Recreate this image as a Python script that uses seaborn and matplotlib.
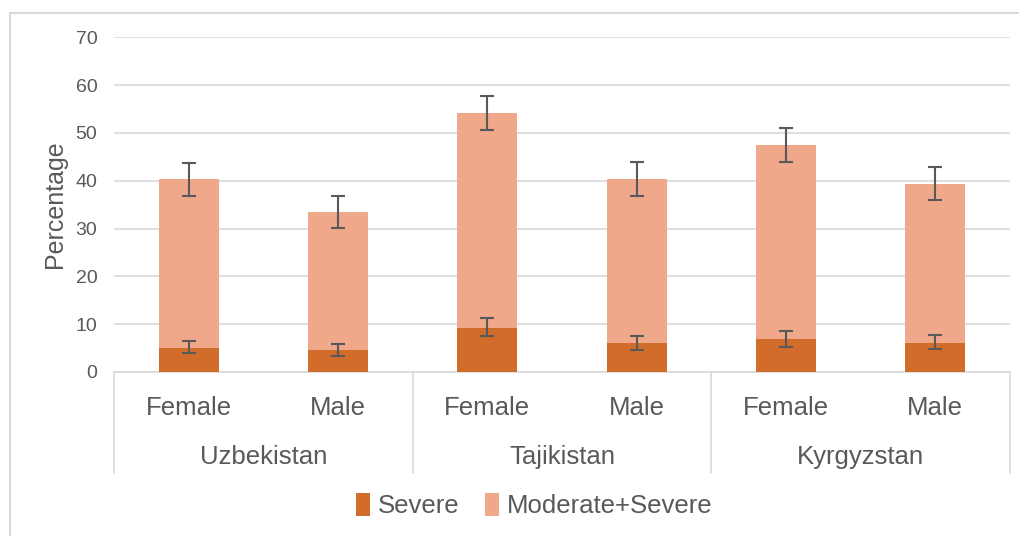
import pandas as pd
import matplotlib
matplotlib.use("Agg")
import matplotlib.pyplot as plt
import seaborn as sns
from matplotlib.patches import Rectangle
from matplotlib.transforms import blended_transform_factory

# data
countries = ["Uzbekistan", "Tajikistan", "Kyrgyzstan"]
genders = ["Female", "Male"]
mod_sev = [40.3, 33.4, 54.1, 40.4, 47.5, 39.4]
mod_sev_lo = [36.9, 30.1, 50.6, 36.8, 43.9, 35.9]
mod_sev_hi = [43.8, 36.9, 57.8, 44.0, 51.1, 42.9]
severe = [5.0, 4.6, 9.2, 6.0, 6.9, 6.1]
severe_lo = [4.0, 3.4, 7.5, 4.6, 5.2, 4.8]
severe_hi = [6.5, 5.9, 11.2, 7.5, 8.6, 7.8]

GRAY_TXT = "#595959"
GRID = "#D9D9D9"
C_SEV = "#D26C2A"
C_MOD = "#F0A88A"

slots = [f"{c} {g}" for c in countries for g in genders]
df = pd.DataFrame({
    "slot": slots,
    "mod_sev": mod_sev,
    "severe": severe,
})

sns.set_style("white")
plt.rcParams["font.family"] = ["Liberation Sans", "DejaVu Sans"]

fig = plt.figure(figsize=(10.19, 5.36), dpi=100)
ax = fig.add_axes([0.1119, 0.306, 0.8793, 0.6244])

sns.barplot(data=df, x="slot", y="mod_sev", order=slots, color=C_MOD,
            saturation=1, width=0.4, label="Moderate+Severe", ax=ax,
            zorder=2, legend=False)
sns.barplot(data=df, x="slot", y="severe", order=slots, color=C_SEV,
            saturation=1, width=0.4, label="Severe", ax=ax, zorder=3,
            legend=False)
for p in ax.patches:
    p.set_edgecolor("none")
if ax.get_legend() is not None:
    ax.get_legend().remove()

xs = list(range(len(slots)))
ax.errorbar(xs, mod_sev,
            yerr=[[m - lo for m, lo in zip(mod_sev, mod_sev_lo)],
                  [hi - m for m, hi in zip(mod_sev, mod_sev_hi)]],
            fmt="none", ecolor=GRAY_TXT, elinewidth=1.5, capsize=5,
            capthick=1.5, zorder=4)
ax.errorbar(xs, severe,
            yerr=[[m - lo for m, lo in zip(severe, severe_lo)],
                  [hi - m for m, hi in zip(severe, severe_hi)]],
            fmt="none", ecolor=GRAY_TXT, elinewidth=1.5, capsize=5,
            capthick=1.5, zorder=4)

ax.set_ylim(0, 70)
ax.set_xlim(-0.5, len(slots) - 0.5)
ax.set_yticks(range(0, 71, 10))
ax.yaxis.grid(True, color=GRID, linewidth=1.2, zorder=0)
ax.set_axisbelow(True)
for s in ["top", "right", "left"]:
    ax.spines[s].set_visible(False)
ax.spines["bottom"].set_color(GRID)
ax.spines["bottom"].set_linewidth(1.2)

ax.tick_params(axis="y", length=0, pad=12, labelsize=14, labelcolor=GRAY_TXT)
ax.set_xticks(xs)
ax.set_xticklabels([g for c in countries for g in genders])
ax.tick_params(axis="x", length=0, pad=17, labelsize=18.5, labelcolor=GRAY_TXT)
ax.set_xlabel("")
ax.set_ylabel("Percentage", fontsize=18, color=GRAY_TXT, labelpad=6)

trans = blended_transform_factory(ax.transData, ax.transAxes)
for i, c in enumerate(countries):
    ax.text(2 * i + 0.5, -0.255, c, transform=trans, ha="center",
            va="center", fontsize=18.5, color=GRAY_TXT)
for xb in [-0.5, 1.5, 3.5, 5.5]:
    ax.plot([xb, xb], [0, -0.302], transform=trans, color=GRID,
            linewidth=1.2, clip_on=False)

handles, labels = ax.get_legend_handles_labels()
order = [labels.index("Severe"), labels.index("Moderate+Severe")]
fig.legend([handles[i] for i in order], [labels[i] for i in order],
           loc="center", bbox_to_anchor=(0.524, 0.057), ncol=2, frameon=False,
           fontsize=18.5, labelcolor=GRAY_TXT, handlelength=0.55,
           handleheight=1.0, handletextpad=0.3, columnspacing=1.0)

fig.patches.append(Rectangle((10 / 1019, -0.01), 1.05, 1 - 13 / 536 + 0.01,
                             transform=fig.transFigure, fill=False,
                             edgecolor=GRID, linewidth=1.5))

fig.savefig("out.png", dpi=100)
